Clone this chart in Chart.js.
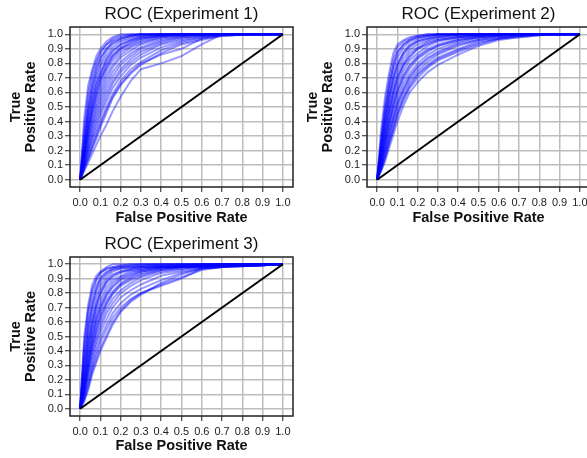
<!DOCTYPE html>
<html>
<head>
<meta charset="utf-8">
<script src="https://cdn.jsdelivr.net/npm/chart.js@4.4.1/dist/chart.umd.min.js"></script>
<style>
  html, body { margin: 0; padding: 0; background: #fff; overflow: hidden; }
  body { width: 587px; height: 458px; position: relative; }
  canvas { position: absolute; }
</style>
</head>
<body>
<canvas id="roc1" width="300" height="230" style="left:0;top:0"></canvas>
<canvas id="roc2" width="300" height="230" style="left:297px;top:0"></canvas>
<canvas id="roc3" width="300" height="228" style="left:0;top:230px"></canvas>
<script>
/* ===== data ===== */
const TITLES = ["ROC (Experiment 1)", "ROC (Experiment 2)", "ROC (Experiment 3)"];
const X_LABEL = "False Positive Rate";
const Y_LABEL = ["True", "Positive Rate"];
const TICKS = [0, 0.1, 0.2, 0.3, 0.4, 0.5, 0.6, 0.7, 0.8, 0.9, 1.0];

// false positive rates shared by every curve
const FPR_GRID = [0, .02, .04, .06, .08, .10, .13, .16, .20, .25, .30, .40, .50, .60, .70, .85, 1.0];

// chance line
const CHANCE_X = [0, 1];
const CHANCE_Y = [0, 1];

// true positive rates, one row per run
const exp1Tpr = [
  [0,.42,.65,.76,.85,.90,.95,.98,1.0,1.0,1.0,1.0,1.0,1.0,1.0,1.0,1.0],
  [0,.36,.60,.74,.82,.88,.93,.97,.99,1.0,1.0,1.0,1.0,1.0,1.0,1.0,1.0],
  [0,.31,.55,.70,.80,.87,.93,.96,.98,.99,1.0,1.0,1.0,1.0,1.0,1.0,1.0],
  [0,.27,.50,.66,.77,.84,.90,.94,.97,.99,1.0,1.0,1.0,1.0,1.0,1.0,1.0],
  [0,.24,.48,.64,.75,.83,.90,.95,.97,.99,1.0,1.0,1.0,1.0,1.0,1.0,1.0],
  [0,.25,.46,.61,.72,.80,.88,.93,.96,.98,.99,1.0,1.0,1.0,1.0,1.0,1.0],
  [0,.22,.43,.58,.69,.78,.85,.91,.95,.97,.99,1.0,1.0,1.0,1.0,1.0,1.0],
  [0,.20,.40,.55,.66,.74,.83,.89,.93,.96,.98,.99,1.0,1.0,1.0,1.0,1.0],
  [0,.19,.38,.53,.65,.73,.82,.88,.93,.96,.98,1.0,1.0,1.0,1.0,1.0,1.0],
  [0,.18,.36,.51,.62,.71,.80,.86,.91,.95,.97,.99,1.0,1.0,1.0,1.0,1.0],
  [0,.17,.34,.48,.60,.69,.77,.84,.90,.93,.96,.99,1.0,1.0,1.0,1.0,1.0],
  [0,.16,.33,.47,.58,.68,.78,.85,.90,.94,.97,.99,1.0,1.0,1.0,1.0,1.0],
  [0,.15,.31,.45,.56,.65,.75,.82,.88,.92,.95,.98,.99,1.0,1.0,1.0,1.0],
  [0,.14,.29,.42,.53,.62,.72,.79,.86,.91,.94,.98,.99,1.0,1.0,1.0,1.0],
  [0,.13,.27,.39,.50,.59,.69,.77,.84,.89,.93,.97,.99,1.0,1.0,1.0,1.0],
  [0,.12,.25,.37,.47,.56,.66,.74,.81,.87,.91,.96,.98,.99,1.0,1.0,1.0],
  [0,.11,.23,.34,.44,.53,.63,.71,.79,.85,.90,.95,.98,.99,1.0,1.0,1.0],
  [0,.10,.21,.31,.41,.50,.60,.68,.76,.83,.88,.94,.97,.99,1.0,1.0,1.0],
  [0,.10,.20,.29,.38,.47,.57,.66,.74,.81,.86,.93,.96,.98,1.0,1.0,1.0],
  [0,.09,.18,.27,.35,.44,.54,.63,.71,.79,.84,.91,.95,.98,.99,1.0,1.0],
  [0,.08,.16,.24,.32,.40,.50,.59,.68,.76,.81,.89,.94,.97,.99,1.0,1.0],
  [0,.07,.14,.21,.28,.36,.46,.56,.65,.73,.79,.87,.93,.96,.99,1.0,1.0],
  [0,.08,.15,.23,.30,.38,.48,.57,.66,.74,.80,.86,.90,.97,1.0,1.0,1.0],
  [0,.06,.12,.18,.24,.30,.38,.47,.57,.68,.76,.80,.85,.93,1.0,1.0,1.0]
];

const exp2Tpr = [
  [0,.35,.58,.74,.87,.93,.96,.98,.99,1.0,1.0,1.0,1.0,1.0,1.0,1.0,1.0],
  [0,.30,.53,.70,.83,.91,.95,.97,.99,1.0,1.0,1.0,1.0,1.0,1.0,1.0,1.0],
  [0,.27,.49,.66,.79,.88,.93,.96,.98,.99,1.0,1.0,1.0,1.0,1.0,1.0,1.0],
  [0,.26,.48,.65,.78,.87,.93,.96,.98,.99,1.0,1.0,1.0,1.0,1.0,1.0,1.0],
  [0,.24,.45,.62,.75,.84,.91,.95,.97,.99,1.0,1.0,1.0,1.0,1.0,1.0,1.0],
  [0,.22,.42,.58,.71,.80,.88,.93,.96,.98,.99,1.0,1.0,1.0,1.0,1.0,1.0],
  [0,.21,.40,.57,.70,.79,.87,.92,.95,.97,.99,1.0,1.0,1.0,1.0,1.0,1.0],
  [0,.20,.39,.55,.68,.77,.86,.91,.95,.97,.98,1.0,1.0,1.0,1.0,1.0,1.0],
  [0,.18,.36,.52,.64,.74,.83,.89,.93,.96,.98,.99,1.0,1.0,1.0,1.0,1.0],
  [0,.17,.34,.49,.61,.71,.80,.87,.91,.95,.97,.99,1.0,1.0,1.0,1.0,1.0],
  [0,.16,.32,.47,.60,.70,.79,.85,.90,.94,.96,.98,.99,1.0,1.0,1.0,1.0],
  [0,.15,.31,.46,.58,.68,.78,.84,.90,.93,.96,.98,.99,1.0,1.0,1.0,1.0],
  [0,.14,.29,.43,.55,.65,.75,.82,.87,.92,.95,.98,.99,1.0,1.0,1.0,1.0],
  [0,.13,.27,.40,.52,.62,.72,.79,.85,.90,.93,.97,.99,1.0,1.0,1.0,1.0],
  [0,.12,.26,.39,.51,.61,.71,.78,.84,.89,.92,.96,.98,.99,1.0,1.0,1.0],
  [0,.12,.25,.38,.49,.59,.69,.76,.83,.88,.92,.96,.98,.99,1.0,1.0,1.0],
  [0,.11,.23,.35,.46,.56,.66,.73,.80,.86,.90,.95,.98,.99,1.0,1.0,1.0],
  [0,.10,.21,.33,.43,.53,.63,.71,.78,.84,.88,.94,.97,.99,1.0,1.0,1.0],
  [0,.09,.20,.31,.42,.52,.62,.70,.77,.83,.87,.93,.96,.98,.99,1.0,1.0],
  [0,.09,.19,.30,.40,.50,.60,.68,.75,.81,.86,.92,.96,.98,.99,1.0,1.0],
  [0,.08,.17,.27,.37,.47,.57,.66,.73,.79,.84,.90,.95,.97,.99,1.0,1.0],
  [0,.07,.16,.26,.35,.45,.56,.64,.72,.78,.83,.89,.94,.97,.99,1.0,1.0],
  [0,.07,.15,.25,.34,.44,.54,.63,.70,.77,.82,.88,.93,.97,.98,1.0,1.0],
  [0,.06,.13,.22,.31,.40,.51,.60,.67,.74,.79,.86,.92,.96,.98,1.0,1.0]
];

const exp3Tpr = [
  [0,.50,.72,.86,.92,.95,.98,1.0,1.0,1.0,1.0,1.0,1.0,1.0,1.0,1.0,1.0],
  [0,.45,.69,.83,.90,.94,.97,.98,.99,1.0,1.0,1.0,1.0,1.0,1.0,1.0,1.0],
  [0,.42,.66,.80,.89,.94,.97,.98,.99,.99,1.0,1.0,1.0,1.0,1.0,1.0,1.0],
  [0,.36,.60,.75,.85,.91,.95,.97,.98,.98,.99,.99,1.0,1.0,1.0,1.0,1.0],
  [0,.33,.57,.72,.83,.90,.94,.97,.98,.99,.99,1.0,1.0,1.0,1.0,1.0,1.0],
  [0,.30,.54,.70,.81,.88,.93,.96,.97,.98,.98,.99,.99,.99,1.0,1.0,1.0],
  [0,.27,.50,.66,.77,.85,.91,.95,.97,.97,.98,.98,.99,.99,.99,1.0,1.0],
  [0,.24,.46,.62,.73,.82,.89,.93,.95,.97,.98,.99,.99,1.0,1.0,1.0,1.0],
  [0,.23,.45,.60,.72,.80,.88,.92,.95,.96,.97,.98,.98,.99,.99,.99,1.0],
  [0,.21,.42,.58,.70,.79,.87,.91,.94,.96,.97,.98,.99,.99,.99,1.0,1.0],
  [0,.19,.39,.55,.67,.75,.84,.89,.92,.95,.96,.98,.99,1.0,1.0,1.0,1.0],
  [0,.17,.36,.52,.64,.72,.81,.87,.91,.94,.96,.98,.98,.99,.99,.99,1.0],
  [0,.16,.34,.50,.62,.70,.79,.85,.90,.93,.95,.97,.98,.98,.99,1.0,1.0],
  [0,.15,.33,.48,.60,.69,.78,.84,.89,.92,.95,.97,.98,.99,1.0,1.0,1.0],
  [0,.14,.31,.45,.57,.66,.75,.81,.87,.91,.94,.97,.98,.98,.99,.99,1.0],
  [0,.13,.28,.42,.53,.62,.72,.79,.85,.89,.92,.96,.98,.99,1.0,1.0,1.0],
  [0,.12,.28,.43,.55,.64,.73,.80,.86,.90,.93,.96,.97,.98,.99,.99,1.0],
  [0,.11,.26,.39,.50,.59,.69,.76,.82,.87,.91,.95,.97,.98,.99,1.0,1.0],
  [0,.10,.24,.36,.47,.56,.66,.73,.80,.85,.89,.94,.96,.98,.99,1.0,1.0],
  [0,.09,.22,.33,.44,.53,.62,.70,.77,.82,.86,.92,.95,.97,.98,.99,1.0],
  [0,.08,.19,.30,.40,.49,.58,.66,.73,.79,.83,.89,.94,.97,.98,1.0,1.0],
  [0,.07,.17,.28,.37,.46,.55,.63,.70,.76,.80,.86,.91,.96,.98,.99,1.0],
  [0,.06,.15,.26,.34,.42,.51,.60,.68,.75,.80,.85,.90,.97,.98,.99,1.0],
  [0,.05,.13,.24,.32,.40,.49,.58,.67,.74,.79,.87,.93,.97,.98,.99,1.0]
];

/* ===== styling helpers ===== */
const FONT = "'Liberation Sans', Arial, sans-serif";
const GRID_COLOR = "#bdbdbd";
const INK = "#222";

// frame around the plot area plus the panel heading
const panelDecor = {
  id: "panelDecor",
  afterDraw(chart, args, opts) {
    const { ctx, chartArea: a } = chart;
    ctx.save();
    ctx.strokeStyle = INK;
    ctx.lineWidth = 1.5;
    ctx.strokeRect(a.left, a.top, a.right - a.left, a.bottom - a.top);
    ctx.fillStyle = "#111";
    ctx.font = "17px " + FONT;
    ctx.textAlign = "center";
    ctx.textBaseline = "alphabetic";
    ctx.fillText(opts.text, (a.left + a.right) / 2, a.top - 8);
    ctx.restore();
  }
};

function axis(title, fitSize, isX) {
  return {
    type: "linear",
    min: -0.05,
    max: 1.05,
    afterBuildTicks: s => { s.ticks = TICKS.map(v => ({ value: v })); },
    afterFit: s => { if (isX) s.height = fitSize; else s.width = fitSize; },
    grid: { color: GRID_COLOR, lineWidth: 1.5, tickColor: INK, tickWidth: 1, tickLength: 5 },
    border: { display: false },
    ticks: {
      autoSkip: false, maxRotation: 0, padding: isX ? 4 : 2,
      color: INK, font: { family: FONT, size: 11 },
      callback: v => v.toFixed(1)
    },
    title: {
      display: true, text: title, color: "#111",
      font: { family: FONT, size: 14.5, weight: "bold", lineHeight: 1.05 },
      padding: isX ? { top: 0, bottom: 4 } : { top: 8, bottom: 0 }
    }
  };
}

function buildPanel(id, heading, tprRows, xAxisHeight) {
  const curves = tprRows.map(row => ({
    data: FPR_GRID.map((x, i) => ({ x: x, y: row[i] })),
    showLine: true,
    borderColor: "rgba(0, 0, 255, 0.4)",
    borderWidth: 2,
    pointRadius: 0,
    tension: 0
  }));
  const chance = {
    data: CHANCE_X.map((x, i) => ({ x: x, y: CHANCE_Y[i] })),
    showLine: true,
    borderColor: "#000",
    borderWidth: 2,
    pointRadius: 0
  };
  return new Chart(document.getElementById(id), {
    type: "scatter",
    data: { datasets: [chance].concat(curves) },
    options: {
      responsive: false,
      animation: false,
      layout: { padding: { top: 27, right: 7, left: 0, bottom: 0 } },
      scales: {
        x: axis(X_LABEL, xAxisHeight, true),
        y: axis(Y_LABEL, 70, false)
      },
      plugins: {
        legend: { display: false },
        tooltip: { enabled: false },
        panelDecor: { text: heading }
      }
    },
    plugins: [panelDecor]
  });
}

buildPanel("roc1", TITLES[0], exp1Tpr, 43);
buildPanel("roc2", TITLES[1], exp2Tpr, 43);
buildPanel("roc3", TITLES[2], exp3Tpr, 42);
</script>
</body>
</html>
